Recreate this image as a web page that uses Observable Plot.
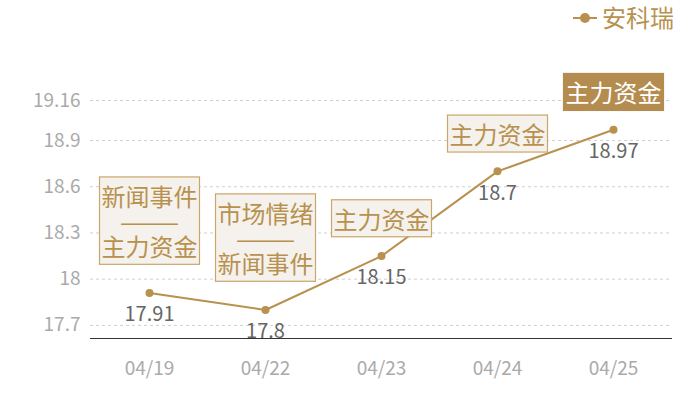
<!DOCTYPE html>
<html>
<head>
<meta charset="utf-8">
<script src="https://cdn.jsdelivr.net/npm/d3@7"></script>
<script src="https://cdn.jsdelivr.net/npm/@observablehq/plot@0.6"></script>
<style>
  body { margin: 0; background: #fff; font-family: "Noto Sans CJK SC", "Noto Sans", sans-serif; }
  #wrap { width: 700px; }
  #legend { height: 38px; position: relative; }
  #legend .item { position: absolute; left: 572px; top: 2px; display: flex; align-items: center; color: #b8914f; font-size: 24px; line-height: 30px; }
</style>
</head>
<body>
<div id="wrap">
  <div id="legend"><div class="item"><svg width="30" height="30"><line x1="1" y1="16" x2="25" y2="16" stroke="#b8914f" stroke-width="2"/><circle cx="13" cy="16" r="5" fill="#b8914f"/></svg><span id="lgText"></span></div></div>
  <div id="chart"></div>
</div>
<script>
const seriesName = "安科瑞";
const dates = ["04/19", "04/22", "04/23", "04/24", "04/25"];
const prices = [17.91, 17.8, 18.15, 18.7, 18.97];
const yTicks = [17.7, 18, 18.3, 18.6, 18.9, 19.16];
const annotations = [["新闻事件", "主力资金"], ["市场情绪", "新闻事件"], ["主力资金"], ["主力资金"], ["主力资金"]];
const highlighted = [false, false, false, false, true];

document.getElementById("lgText").textContent = seriesName;

const data = dates.map((d, i) => ({
  date: d,
  price: prices[i],
  label: annotations[i].join("\n———\n"),
  lines: annotations[i].length,
  hi: highlighted[i]
}));

const gold = "#b8914f";
const yMin = 17.615, yMax = 19.16;

const chart = Plot.plot({
  width: 700,
  height: 362,
  marginTop: 62,
  marginBottom: 62,
  marginLeft: 90,
  marginRight: 28,
  style: { fontFamily: "'Noto Sans CJK SC', 'Noto Sans', sans-serif", background: "#fff" },
  x: { type: "band", domain: dates, padding: 0 },
  y: { domain: [yMin, yMax] },
  marks: [
    Plot.gridY(yTicks, { stroke: "#cfcfcf", strokeOpacity: 1, strokeDasharray: "3,3" }),
    Plot.axisY(yTicks, { tickSize: 0, tickPadding: 10, fontSize: 19, fill: "#aaaaaa", tickFormat: d => String(d), label: null }),
    Plot.axisX({ tickSize: 0, tickPadding: 23, fontSize: 19, fill: "#aaaaaa", label: null }),
    Plot.ruleY([yMin], { stroke: "#333", strokeWidth: 1.2 }),
    Plot.line(data, { x: "date", y: "price", stroke: gold, strokeWidth: 2 }),
    Plot.dot(data, { x: "date", y: "price", r: 4, fill: gold, stroke: "none" }),
    Plot.text(data, { x: "date", y: "price", text: d => String(d.price), dy: 22, fontSize: 20, fill: "#666666", lineAnchor: "middle" }),
    Plot.text(data.filter(d => d.lines > 1), { x: "date", y: "price", text: "label", dy: -70, fontSize: 24, lineHeight: 1.05, lineAnchor: "middle", fill: gold, className: "anno" }),
    Plot.text(data.filter(d => d.lines === 1), { x: "date", y: "price", text: "label", dy: -35, fontSize: 24, lineAnchor: "middle", fill: d => d.hi ? "#ffffff" : gold, className: "anno" })
  ]
});
document.getElementById("chart").appendChild(chart);

// draw frames behind the annotation texts
chart.querySelectorAll("g.anno").forEach(g => {
  g.querySelectorAll("text").forEach(t => {
    const b = t.getBBox();
    const hi = t.getAttribute("fill") === "#ffffff";
    const r = document.createElementNS("http://www.w3.org/2000/svg", "rect");
    r.setAttribute("x", b.x - 2);
    r.setAttribute("y", b.y - 1);
    r.setAttribute("width", b.width + 4);
    r.setAttribute("height", b.height + 2);
    r.setAttribute("fill", hi ? "#b48c4f" : "#f5f2ed");
    r.setAttribute("stroke", hi ? "#b48c4f" : "#c9a66b");
    r.setAttribute("stroke-width", 1.2);
    const tr = t.getAttribute("transform");
    if (tr) r.setAttribute("transform", tr);
    g.insertBefore(r, t);
  });
});
</script>
</body>
</html>
